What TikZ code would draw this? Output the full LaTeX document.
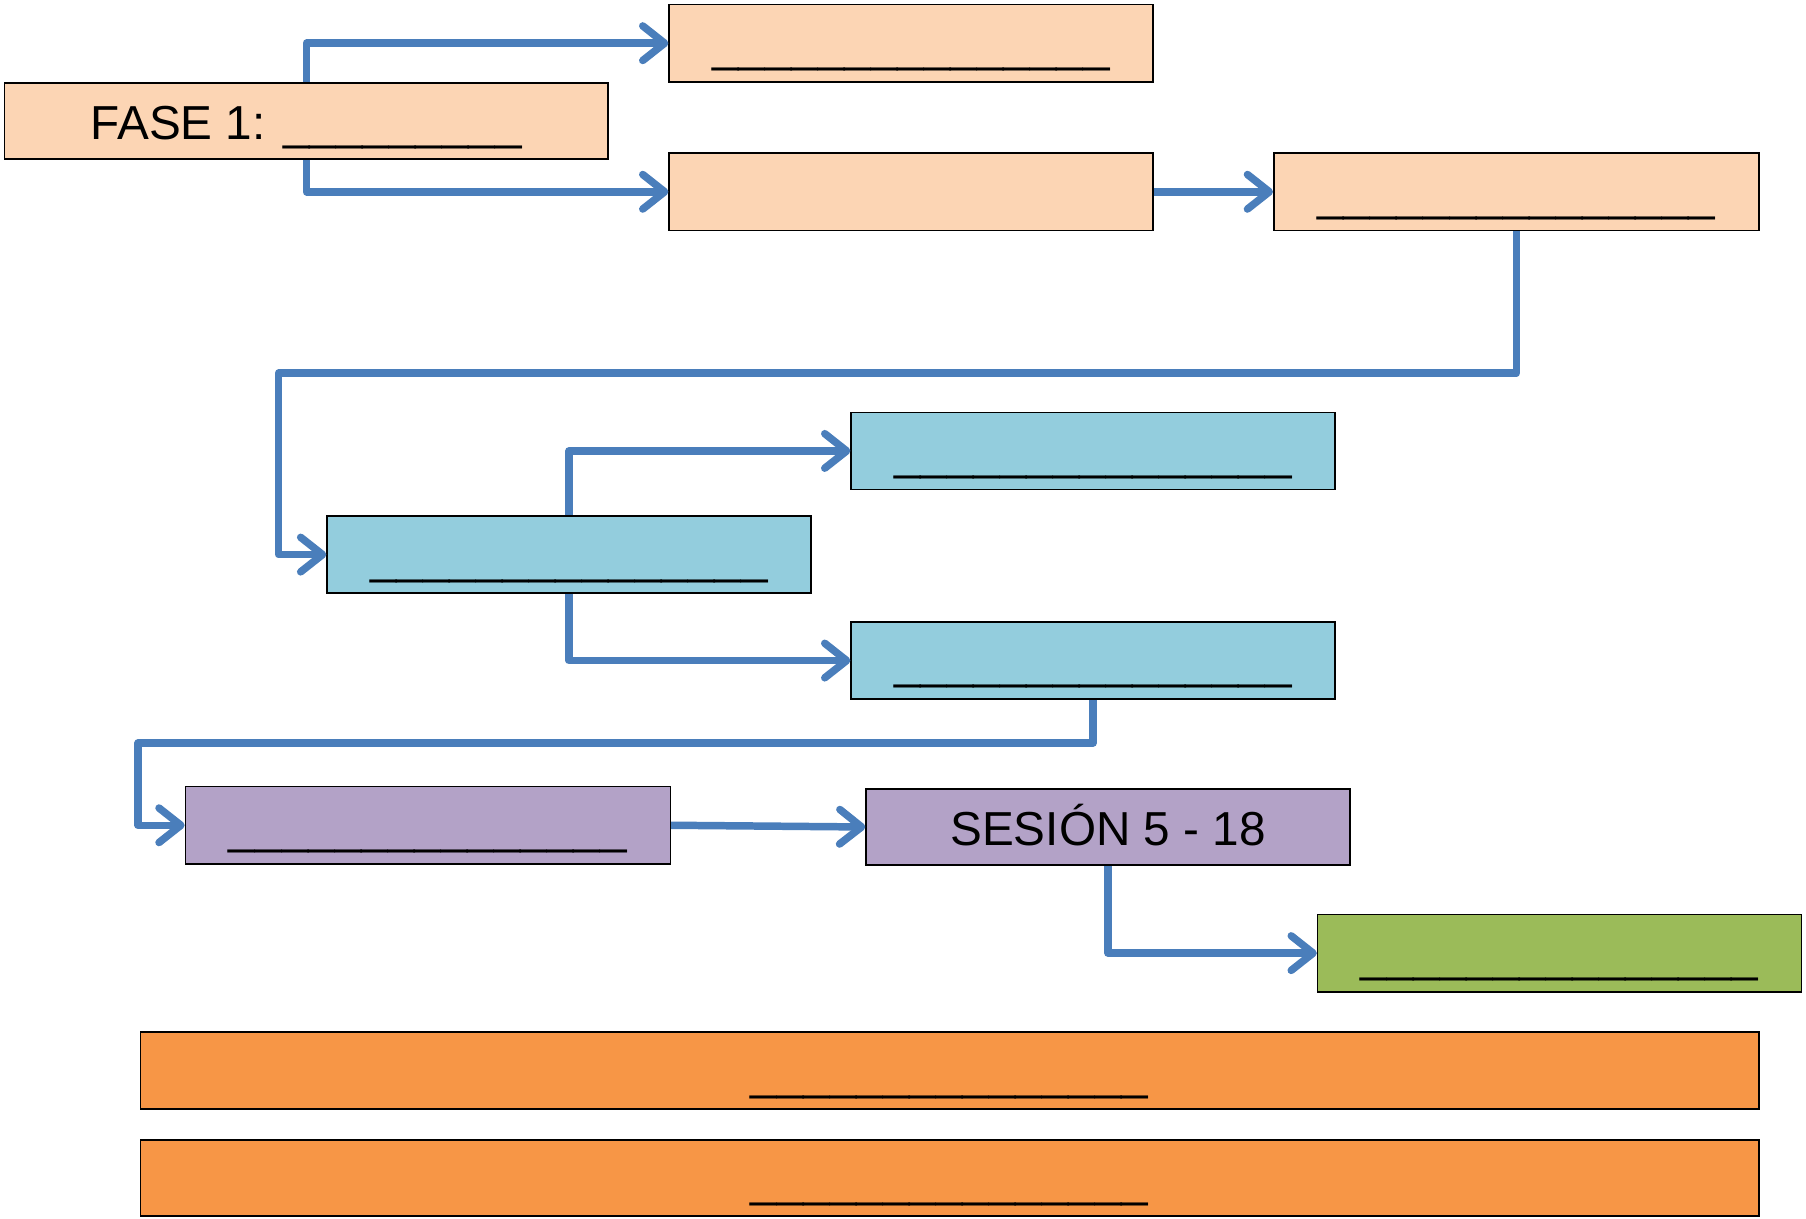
\documentclass[tikz,border=0pt]{standalone}
\usepackage{fontspec}
\setmainfont{Liberation Sans}
\usetikzlibrary{arrows.meta}
\definecolor{peach}{RGB}{252,213,180}
\definecolor{aqua}{RGB}{147,205,221}
\definecolor{lilac}{RGB}{179,162,199}
\definecolor{leaf}{RGB}{155,187,89}
\definecolor{tang}{RGB}{247,150,70}
\definecolor{conn}{RGB}{74,126,187}
\newcommand{\blank}{\_\_\_\_\_\_\_\_\_\_\_\_\_\_\_}
\tikzset{
  box/.style={draw=black, line width=1.4pt, inner sep=0pt, minimum height=67pt,
    text height=32pt, text depth=0pt, font=\fontsize{41.4}{48}\selectfont},
  link/.style={draw=conn, line width=6.5pt, line join=round,
    -{Straight Barb[length=19pt,width=30pt,round]}}
}
\begin{document}
\begin{tikzpicture}[x=1pt,y=-1pt]
\useasboundingbox (0,0) rectangle (1568,1057.5);
\node[box, fill=peach, minimum width=524pt, minimum height=66pt] (fase) at (266,105) {FASE 1: \_\_\_\_\_\_\_\_\_};
\node[box, fill=peach, minimum width=420pt] (a) at (791,37.5) {\blank};
\node[box, fill=peach, minimum width=420pt] (b) at (791,166.5) {};
\node[box, fill=peach, minimum width=421pt] (c) at (1316.5,166.5) {\blank};
\node[box, fill=aqua, minimum width=420pt] (d) at (494,481.5) {\blank};
\node[box, fill=aqua, minimum width=420pt] (e) at (949,391.5) {\blank};
\node[box, fill=aqua, minimum width=420pt] (f) at (949,573.5) {\blank};
\node[box, fill=lilac, minimum width=421pt] (g) at (371.5,716.5) {\blank};
\node[box, fill=lilac, minimum width=420pt, minimum height=66pt] (h) at (962,718) {SESIÓN 5 - 18};
\node[box, fill=leaf, minimum width=420pt] (i) at (1354,827.5) {\blank};
\node[box, fill=tang, minimum width=1405pt] (j) at (824.5,929.5) {\blank};
\node[box, fill=tang, minimum width=1405pt, minimum height=66pt] (k) at (824.5,1023) {\blank};
\coordinate (t1) at (242,324);
\coordinate (t2) at (120,645);
\draw[link] (fase.north) |- (a.west);
\draw[link] (fase.south) |- (b.west);
\draw[link] (b.east) -- (c.west);
\draw[link] (c.south) |- (t1) |- (d.west);
\draw[link] (d.north) |- (e.west);
\draw[link] (d.south) |- (f.west);
\draw[link] (f.south) |- (t2) |- (g.west);
\draw[link] (g.east) -- (h.west);
\draw[link] (h.south) |- (i.west);
\end{tikzpicture}
\end{document}
